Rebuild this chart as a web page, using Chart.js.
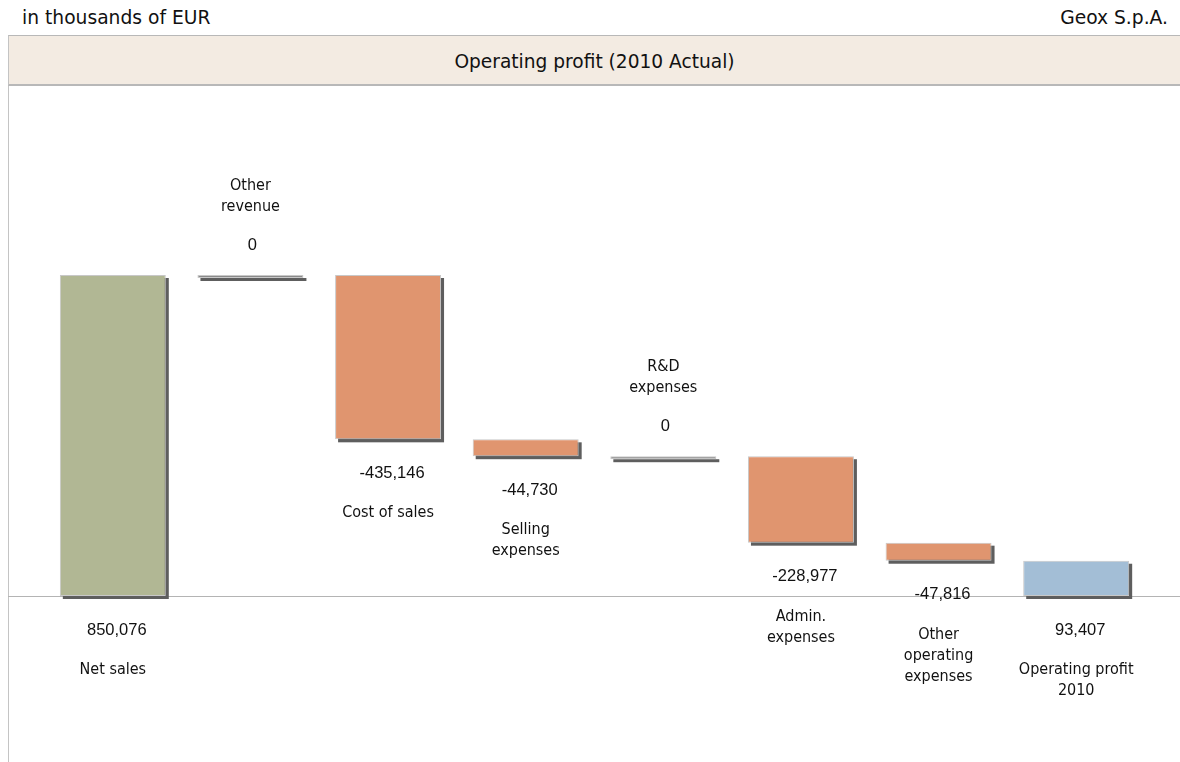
<!DOCTYPE html>
<html>
<head>
<meta charset="utf-8">
<script src="https://cdn.jsdelivr.net/npm/chart.js@4"></script>
<style>
  body { margin: 0; background: #fff; width: 1180px; height: 762px; overflow: hidden; position: relative; font-family: "DejaVu Sans", sans-serif; color: #111; }
  .head { position: absolute; top: 7px; font-size: 18.7px; }
  #band { position: absolute; left: 8px; top: 35px; width: 1172px; height: 51px; background: #f3ebe2;
          border-top: 1px solid #b8b8b8; border-bottom: 2px solid #b8b8b8; border-left: 1px solid #c4c4c4;
          box-sizing: border-box; text-align: center; line-height: 51px; font-size: 18.6px; }
  #leftline { position: absolute; left: 8px; top: 86px; width: 1px; height: 676px; background: #c4c4c4; }
  #wrap { position: absolute; left: 0; top: 86px; width: 1180px; height: 676px; }
</style>
</head>
<body>
<div class="head" style="left:22px">in thousands of EUR</div>
<div class="head" style="right:12px">Geox S.p.A.</div>
<div id="band">Operating profit (2010 Actual)</div>
<div id="leftline"></div>
<div id="wrap"><canvas id="myChart"></canvas></div>
<script>
// categories (one line per array entry)
const categories = [
  ['Net sales'],
  ['Other', 'revenue'],
  ['Cost of sales'],
  ['Selling', 'expenses'],
  ['R&D', 'expenses'],
  ['Admin.', 'expenses'],
  ['Other', 'operating', 'expenses'],
  ['Operating profit', '2010']
];
// steps of the bridge, thousands of EUR
const values = [850076, 0, -435146, -44730, 0, -228977, -47816, 93407];
// which bars are totals (start from zero)
const isTotal = [true, false, false, false, false, false, false, true];
const colors = ['#b1b794', '#8a8a8a', '#e0956f', '#e0956f', '#8a8a8a', '#e0956f', '#e0956f', '#a3bed6'];

// floating ranges built from the steps
const ranges = [];
let running = 0;
values.forEach((v, i) => {
  if (isTotal[i]) { ranges.push([0, v]); running = v; }
  else { ranges.push([running, running + v]); running += v; }
});

const ctx = document.getElementById('myChart').getContext('2d');

const labelFont = '16px "DejaVu Sans Condensed", "DejaVu Sans", sans-serif';
const valueFont = '16.5px "Liberation Sans", Arial, sans-serif';

const framePlugin = {
  id: 'frame',
  beforeDatasetsDraw(chart) {
    const c = chart.ctx;
    const y0 = Math.round(chart.scales.y.getPixelForValue(0)) + 0.5;
    c.save();
    c.strokeStyle = '#b4b4b4';
    c.lineWidth = 1;
    c.beginPath();
    c.moveTo(8, y0);
    c.lineTo(chart.width, y0);
    c.stroke();
    // drop shadows behind the bars
    c.fillStyle = '#5e5e5e';
    chart.getDatasetMeta(0).data.forEach(bar => {
      const top = Math.min(bar.y, bar.base);
      const h = Math.abs(bar.base - bar.y);
      c.fillRect(bar.x - bar.width / 2 + 3, top + 3, bar.width, h);
    });
    c.restore();
  },
  afterDatasetsDraw(chart) {
    const c = chart.ctx;
    const meta = chart.getDatasetMeta(0);
    c.save();
    c.fillStyle = '#111';
    c.textAlign = 'center';
    c.textBaseline = 'middle';
    meta.data.forEach((bar, i) => {
      const x = bar.x;
      const top = Math.min(bar.y, bar.base);
      const bottom = Math.max(bar.y, bar.base);
      const txt = values[i].toLocaleString('en-US');
      const lines = categories[i];
      if (values[i] === 0) {
        c.font = valueFont;
        c.fillText(txt, x + 2, top - 30);
        c.font = labelFont;
        lines.forEach((l, k) => {
          c.fillText(l, x, top - 68 - (lines.length - 1 - k) * 21);
        });
      } else {
        c.font = valueFont;
        c.fillText(txt, x + 4, bottom + 34);
        c.font = labelFont;
        lines.forEach((l, k) => {
          c.fillText(l, x, bottom + 74 + k * 21);
        });
      }
    });
    c.restore();
  }
};

const data = {
  labels: categories,
  datasets: [{
    data: ranges,
    backgroundColor: colors,
    borderColor: '#c8c8c8',
    borderWidth: 1,
    borderSkipped: false,
    minBarLength: 3,
    categoryPercentage: 1,
    barPercentage: 0.77
  }]
};

const config = {
  type: 'bar',
  data: data,
  plugins: [framePlugin],
  options: {
    responsive: true,
    maintainAspectRatio: false,
    animation: false,
    layout: { padding: { left: 44, right: 35, top: 0, bottom: 0 } },
    plugins: {
      legend: { display: false },
      tooltip: { enabled: false }
    },
    scales: {
      x: { display: false },
      y: { display: false, min: -439600, max: 1350600 }
    }
  }
};

new Chart(ctx, config);
</script>
</body>
</html>
